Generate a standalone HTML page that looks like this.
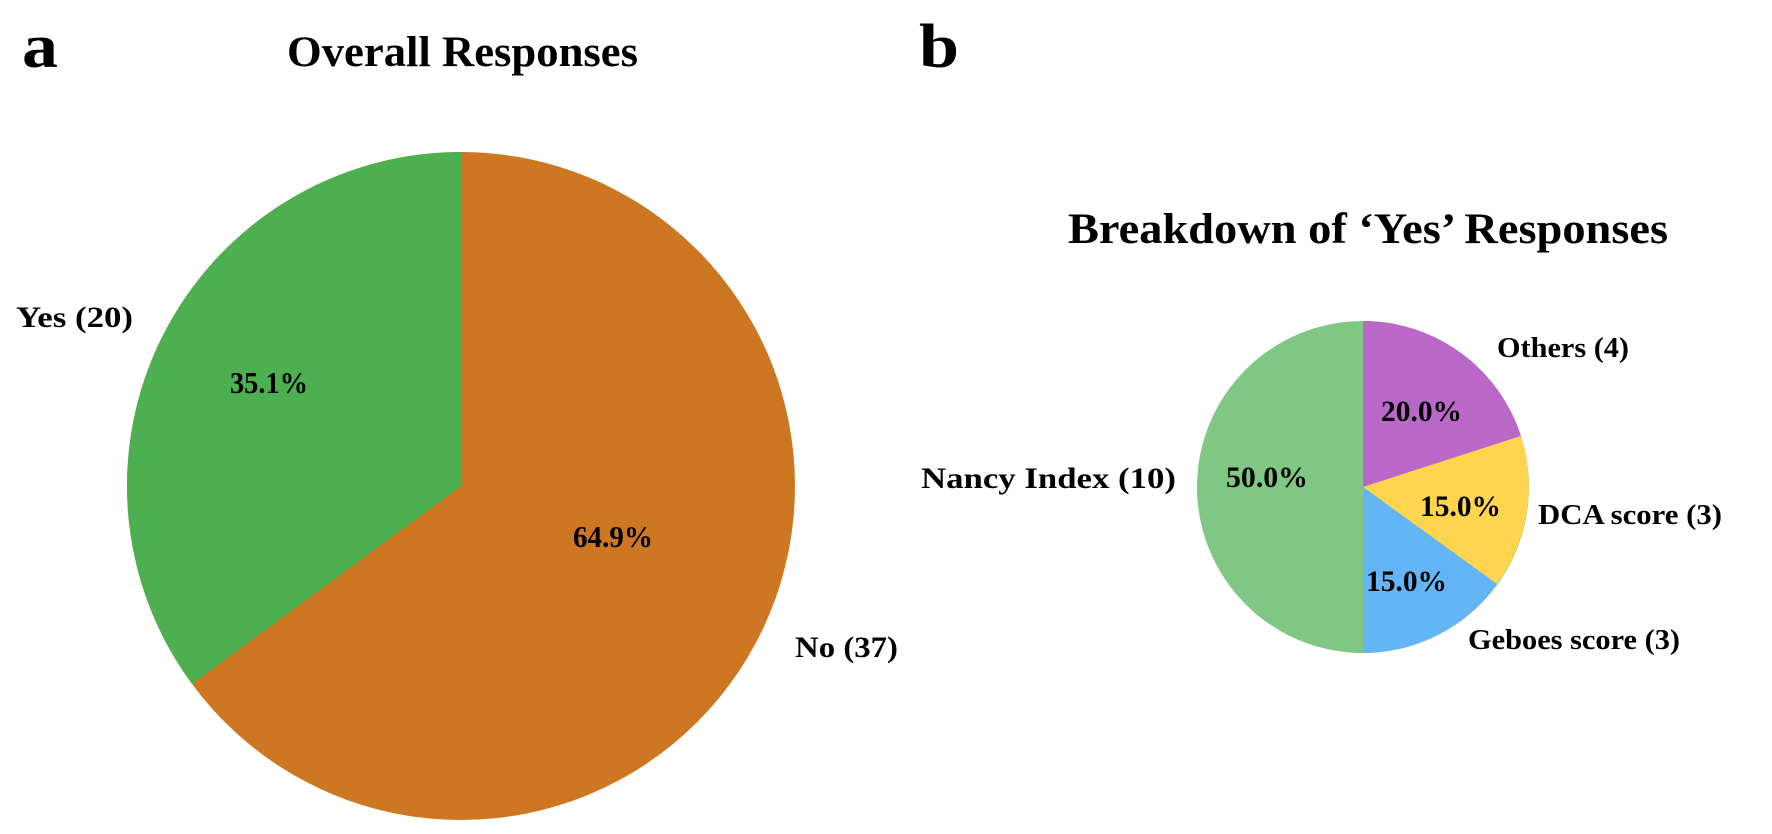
<!DOCTYPE html>
<html><head><meta charset="utf-8"><style>
html,body{margin:0;padding:0;background:#fff;}
svg{display:block;}
text{font-family:"Liberation Serif","DejaVu Serif",serif;font-weight:bold;fill:#000;}
</style></head><body>
<svg width="1772" height="834" viewBox="0 0 1772 834" xmlns="http://www.w3.org/2000/svg">
<rect width="1772" height="834" fill="#fff"/>
<!-- Panel a -->
<circle cx="461" cy="486" r="334" fill="#CD7722"/>
<path d="M461,486 L461,152 A334,334 0 0 0 192,684 Z" fill="#4CAF50"/>
<text x="22" y="67" font-size="62" textLength="36" lengthAdjust="spacingAndGlyphs">a</text>
<text x="287" y="66" font-size="43" textLength="351" lengthAdjust="spacingAndGlyphs">Overall Responses</text>
<text x="16" y="327" font-size="30" textLength="117" lengthAdjust="spacingAndGlyphs">Yes (20)</text>
<text x="230" y="393" font-size="31" textLength="78" lengthAdjust="spacingAndGlyphs">35.1%</text>
<text x="573" y="547" font-size="31" textLength="80" lengthAdjust="spacingAndGlyphs">64.9%</text>
<text x="795" y="657" font-size="30" textLength="103" lengthAdjust="spacingAndGlyphs">No (37)</text>
<!-- Panel b -->
<text x="919" y="67" font-size="62" textLength="40" lengthAdjust="spacingAndGlyphs">b</text>
<text x="1068" y="243" font-size="43" textLength="600" lengthAdjust="spacingAndGlyphs">Breakdown of ‘Yes’ Responses</text>
<circle cx="1363" cy="487" r="166" fill="#81C784"/>
<path d="M1363,487 L1363,321 A166,166 0 0 1 1521,436 Z" fill="#BA68C8"/>
<path d="M1363,487 L1521,436 A166,166 0 0 1 1497,584 Z" fill="#FFD54F"/>
<path d="M1363,487 L1497,584 A166,166 0 0 1 1363,653 Z" fill="#64B5F6"/>
<text x="1497" y="357" font-size="29" textLength="132" lengthAdjust="spacingAndGlyphs">Others (4)</text>
<text x="1381" y="421" font-size="30" textLength="81" lengthAdjust="spacingAndGlyphs">20.0%</text>
<text x="921" y="488" font-size="30" textLength="255" lengthAdjust="spacingAndGlyphs">Nancy Index (10)</text>
<text x="1226" y="487" font-size="30" textLength="82" lengthAdjust="spacingAndGlyphs">50.0%</text>
<text x="1420" y="516" font-size="30" textLength="81" lengthAdjust="spacingAndGlyphs">15.0%</text>
<text x="1538" y="524" font-size="29" textLength="184" lengthAdjust="spacingAndGlyphs">DCA score (3)</text>
<text x="1366" y="591" font-size="30" textLength="81" lengthAdjust="spacingAndGlyphs">15.0%</text>
<text x="1468" y="649" font-size="29" textLength="212" lengthAdjust="spacingAndGlyphs">Geboes score (3)</text>
</svg>
</body></html>
